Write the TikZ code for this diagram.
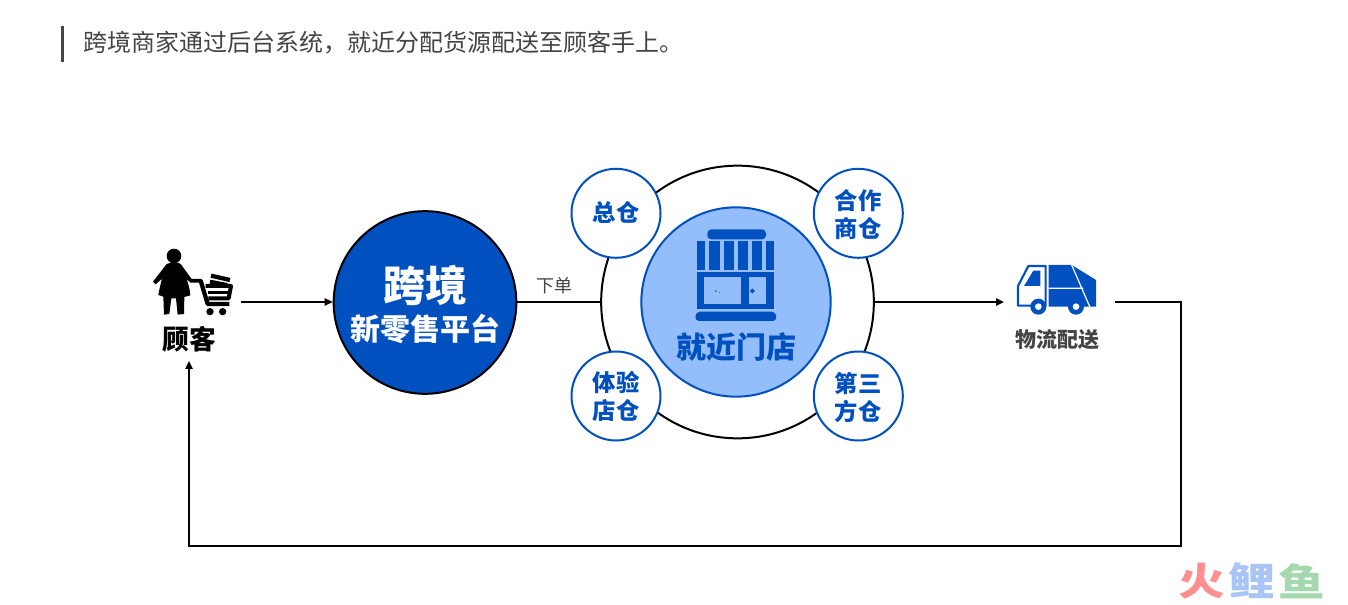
\documentclass[tikz,border=0pt]{standalone}
\usepackage{fontspec}
\setmainfont{Noto Sans CJK SC}
\usetikzlibrary{arrows.meta}
\definecolor{deepblue}{HTML}{0050C0}
\definecolor{paleblue}{HTML}{94BDFC}
\definecolor{inkgrey}{HTML}{444444}
\definecolor{huored}{HTML}{FD8F90}
\definecolor{huoblue}{HTML}{A9C4F5}
\definecolor{huogreen}{HTML}{A5D8AE}
\tikzset{
  wire/.style={black,line width=1.5pt*.75},
  arrowwire/.style={wire,-{Triangle[length=6pt,width=5.5pt]}},
  txt/.style={inner sep=0pt,outer sep=0pt,align=center},
  satellite/.style={circle,draw=deepblue,fill=white,line width=1.5pt,minimum size=66.75pt,inner sep=0pt},
  satlabel/.style={txt,text=deepblue,font=\fontsize{17.5pt}{21pt}\selectfont\bfseries},
  mark glyph/.style={txt,transform shape,yscale=.82,font=\fontsize{35pt}{40pt}\selectfont\bfseries},
}
\begin{document}
\begin{tikzpicture}[x=.75pt,y=-.75pt]
\useasboundingbox (0,0) rectangle (1348,605);
% title
\fill[inkgrey] (61,26) rectangle (64,62);
\node[txt,anchor=west,text=inkgrey,font=\fontsize{18pt}{22pt}\selectfont] (title) at (83.5,42.7) {跨境商家通过后台系统，就近分配货源配送至顾客手上。};
% hub
\node[circle,draw=black,line width=1.5pt,fill=white,minimum size=204.5pt,inner sep=0pt] (hub) at (737.5,302) {};
\node[circle,draw=deepblue,fill=paleblue,line width=1.5pt,minimum size=142pt,inner sep=0pt] (store) at (736,302) {};
\node[satellite] (s1) at (616,213.3) {};
\node[satellite] (s2) at (858.3,213.3) {};
\node[satellite] (s3) at (616,396) {};
\node[satellite] (s4) at (858.3,396) {};
\node[satlabel] (l1) at (616,212.5) {总仓};
\node[satlabel] (l2) at (858,214.5) {合作\\商仓};
\node[satlabel] (l3) at (616,396.5) {体验\\店仓};
\node[satlabel] (l4) at (858,397.5) {第三\\方仓};
\node[txt,text=deepblue,font=\fontsize{22.5pt}{26pt}\selectfont\bfseries] (storelabel) at (736,347.5) {就近门店};
% store icon
\begin{scope}[shift={(680,220)},x=.25pt,y=-.25pt]
\fill[deepblue,rounded corners=3pt] (82,58) -- (82,28) -- (258,28) -- (258,58) -- cycle;
\foreach \a/\b in {52/75,87/120,132/162,174/204,216/246,258/282} \fill[deepblue] (\a,63) rectangle (\b,150);
\fill[deepblue] (52,155) rectangle (282,268);
\fill[paleblue] (72,172) rectangle (182,253);
\fill[paleblue] (206,172) rectangle (258,253);
\draw[deepblue,line width=1pt] (217,213) circle (4.5);
\fill[deepblue] (107,213) circle (2.5) (118,217) circle (1.5);
\fill[deepblue,rounded corners=3pt] (45,303) -- (48,275) -- (287,275) -- (290,303) -- cycle;
\end{scope}
% platform
\node[circle,draw=black,line width=1.5pt,fill=deepblue,minimum size=137pt,inner sep=0pt] (platform) at (425,302.5) {};
\node[txt,text=white,font=\fontsize{31.5pt}{36pt}\selectfont\bfseries] (pl1) at (425,285) {跨境};
\node[txt,text=white,font=\fontsize{22.5pt}{26pt}\selectfont\bfseries] (pl2) at (425,328.5) {新零售平台};
% person + cart icon
\begin{scope}[shift={(130,230)},x=.25pt,y=-.25pt]
\fill[black] (132,78) circle (22);
\fill[black] (110,102) .. controls (130,95) and (140,95) .. (152,102)
  -- (185,147) -- (215,147) -- (219,158) -- (182,158) -- (170,148)
  .. controls (176,165) and (180,180) .. (181,196) -- (163,201) -- (162,252) -- (143,254) -- (138,205) -- (124,205) -- (118,252) -- (102,254) -- (100,200) -- (85,195)
  .. controls (88,178) and (92,160) .. (96,146) -- (77,163) -- (69,155) -- cycle;
\draw[black,line width=3.2pt,line join=round] (212,152) -- (233,222) -- (298,222);
\draw[black,line width=3pt,line join=round] (227,168) -- (303,168) -- (296,205) -- (235,205);
\draw[black,line width=2.6pt] (233,187) -- (298,187);
\draw[black,line width=3pt] (240,155) -- (292,165);
\draw[black,line width=3.2pt] (243,137) -- (300,150);
\fill[black] (240,245) circle (11) (278,245) circle (11);
\end{scope}
\node[txt,font=\fontsize{20pt}{24pt}\selectfont\bfseries] (customer) at (189,339.5) {顾客};
% truck icon
\begin{scope}[shift={(1000,250)},x=.25pt,y=-.25pt]
\draw[deepblue,line width=1.6pt,fill=white,line join=round] (85,48) -- (137,48) -- (137,167) -- (54,167) -- (54,108) -- cycle;
\fill[deepblue] (100,62) -- (121,62) -- (121,108) -- (72,108) -- cycle;
\fill[deepblue] (146,45) -- (215,45) -- (288,90) -- (288,170) -- (146,170) -- cycle;
\draw[white,line width=.9pt] (215,45) -- (270,172) (146,115) -- (250,115);
\fill[deepblue] (115,170) circle (24) (228,170) circle (24);
\fill[white] (115,170) circle (10) (228,170) circle (10);
\end{scope}
\coordinate (truckin) at (1004,302);
\coordinate (truckout) at (1115,302);
\node[txt,text=inkgrey,font=\fontsize{15.75pt}{19pt}\selectfont\bfseries] (logistics) at (1057,339.5) {物流配送};
% label
\node[txt,text=inkgrey,font=\fontsize{13.5pt}{16pt}\selectfont] (order) at (554.5,285.7) {下单};
% connectors
\coordinate (custout) at (241,302);
\coordinate (custin) at (189,361);
\coordinate (c1) at (1181,302);
\coordinate (c2) at (1181,546);
\coordinate (c3) at (189,546);
\draw[arrowwire] (custout) -- (custout -| platform.west);
\draw[wire] (platform.east |- custout) -- (hub.west);
\draw[arrowwire] (hub.east) -- (truckin);
\draw[arrowwire,line join=miter] (truckout) -- (c1) -- (c2) -- (c3) -- (custin);
% watermark
\node[mark glyph,text=huored] (m1) at (1202,581) {火};
\node[mark glyph,text=huoblue] (m2) at (1252,581) {鲤};
\node[mark glyph,text=huogreen] (m3) at (1302,581) {鱼};
\end{tikzpicture}
\end{document}
